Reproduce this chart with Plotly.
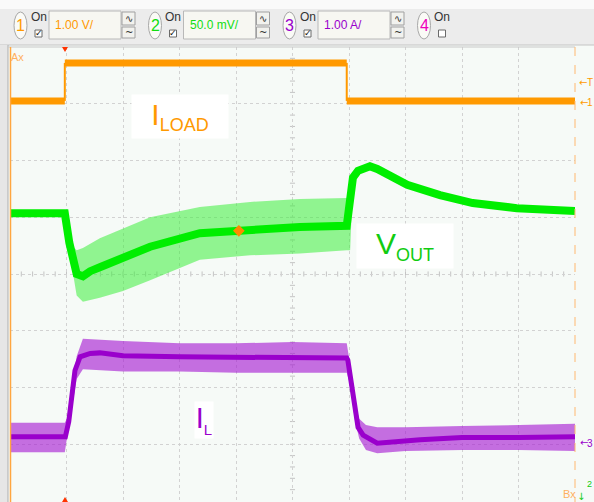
import plotly.graph_objects as go

# ---------------- data (in screen divisions: x 0..10, y -4..4) ----------------
# Channel 1 : I_LOAD (orange)
ch1_t = [0, 0.97, 5.96, 10.0]
ch1_v = [3.05, 3.72, 3.05, 3.05]

# Channel 2 : V_OUT (green) - centre of the trace
ch2_t = [0, 0.97, 1.05, 1.18, 1.29, 1.42, 1.59, 2.0, 2.48, 3.36, 4.05, 5.13, 5.96,
         6.02, 6.07, 6.16, 6.37, 6.50, 7.03, 7.61, 8.19, 8.97, 10.0]
ch2_v = [1.07, 1.07, 0.55, 0.0, -0.04, 0.05, 0.12, 0.30, 0.48, 0.72, 0.77, 0.83, 0.85,
         1.45, 1.70, 1.82, 1.90, 1.85, 1.57, 1.39, 1.25, 1.16, 1.11]
# V_OUT switching-ripple envelope
ch2_env_t = [1.02, 1.10, 1.18, 1.29, 1.59, 2.0, 2.48, 3.36, 4.25, 5.13, 5.96, 6.02, 6.07]
ch2_env_hi = [0.75, 0.50, 0.42, 0.46, 0.63, 0.80, 1.00, 1.18, 1.27, 1.32, 1.34, 1.60, 1.75]
ch2_env_lo = [0.75, 0.10, -0.38, -0.49, -0.42, -0.30, -0.11, 0.25, 0.33, 0.36, 0.42, 0.42, 1.65]

# Channel 3 : I_L (purple) - centre of the trace
ch3_t = [0, 0.98, 1.04, 1.10, 1.15, 1.24, 1.42, 1.59, 2.0, 3.0, 4.0, 5.0, 5.96,
         5.98, 6.05, 6.11, 6.16, 6.25, 6.50, 7.26, 8.0, 9.0, 10.0]
ch3_v = [-2.87, -2.87, -2.60, -2.18, -1.70, -1.46, -1.40, -1.39, -1.44, -1.46, -1.47, -1.47, -1.48,
         -1.52, -1.99, -2.40, -2.70, -2.84, -2.98, -2.92, -2.88, -2.88, -2.87]
# I_L ripple envelope
ch3_env_t = [0, 0.97, 1.03, 1.10, 1.18, 1.29, 2.0, 3.0, 4.0, 5.0, 5.96, 6.02, 6.10, 6.18,
             6.30, 6.50, 7.0, 8.0, 9.0, 10.0]
ch3_env_hi = [-2.62, -2.62, -2.50, -2.05, -1.45, -1.14, -1.18, -1.22, -1.22, -1.20, -1.22, -1.60,
              -2.25, -2.55, -2.66, -2.70, -2.70, -2.68, -2.66, -2.64]
ch3_env_lo = [-3.14, -3.14, -2.75, -2.35, -1.85, -1.68, -1.72, -1.72, -1.74, -1.74, -1.74, -1.95,
              -2.55, -2.90, -3.10, -3.16, -3.12, -3.10, -3.10, -3.12]

# cursor marker on V_OUT
marker_t = [4.05]
marker_v = [0.76]

# channel settings shown in the toolbar
ch_numbers = ["1", "2", "3", "4"]
ch_scales = ["1.00 V/", "50.0 mV/", "1.00 A/", None]
ch_colors = ["#FF9900", "#11DD11", "#9900CC", "#EE00BB"]

# ---------------- layout helpers (pixel -> paper) ----------------
W, H = 594, 502
L, R, T, B = 10, 575, 47, 501


def px(x):
    return (x - L) / (R - L)


def py(y):
    return (B - y) / (B - T)


ORANGE = "#FF9900"
GREEN = "#00EE00"
PURPLE = "#9A00CC"
PLOT_BG = "#F6FAF7"

fig = go.Figure()

# I_L ripple band + core
fig.add_trace(go.Scatter(x=ch3_env_t, y=ch3_env_hi, mode="lines", line=dict(width=0),
                         hoverinfo="skip", showlegend=False))
fig.add_trace(go.Scatter(x=ch3_env_t, y=ch3_env_lo, mode="lines", line=dict(width=0),
                         fill="tonexty", fillcolor="rgba(165,25,210,0.62)",
                         hoverinfo="skip", showlegend=False))
fig.add_trace(go.Scatter(x=ch3_t, y=ch3_v, mode="lines", line=dict(color=PURPLE, width=5),
                         showlegend=False))

# V_OUT ripple band + core
fig.add_trace(go.Scatter(x=ch2_env_t, y=ch2_env_hi, mode="lines", line=dict(width=0),
                         hoverinfo="skip", showlegend=False))
fig.add_trace(go.Scatter(x=ch2_env_t, y=ch2_env_lo, mode="lines", line=dict(width=0),
                         fill="tonexty", fillcolor="rgba(60,238,60,0.55)",
                         hoverinfo="skip", showlegend=False))
fig.add_trace(go.Scatter(x=ch2_t, y=ch2_v, mode="lines", line=dict(color=GREEN, width=8),
                         showlegend=False))

# I_LOAD : thick levels, thin edges (built from the step data)
lev_x, lev_y, edge_x, edge_y = [], [], [], []
for i in range(len(ch1_t) - 1):
    lev_x += [ch1_t[i], ch1_t[i + 1], None]
    lev_y += [ch1_v[i], ch1_v[i], None]
    edge_x += [ch1_t[i + 1], ch1_t[i + 1], None]
    edge_y += [ch1_v[i], ch1_v[i + 1], None]
fig.add_trace(go.Scatter(x=edge_x, y=edge_y, mode="lines",
                         line=dict(color=ORANGE, width=2), showlegend=False))
fig.add_trace(go.Scatter(x=lev_x, y=lev_y, mode="lines",
                         line=dict(color=ORANGE, width=7), showlegend=False))

# cursor marker
fig.add_trace(go.Scatter(x=marker_t, y=marker_v, mode="markers",
                         marker=dict(symbol="diamond", size=9, color="#FF8800"),
                         showlegend=False))

shapes = []
annos = []


def rect(x0, y0, x1, y1, fill, line="rgba(0,0,0,0)", lw=1, layer="above"):
    shapes.append(dict(type="rect", xref="paper", yref="paper",
                       x0=px(x0), x1=px(x1), y0=py(y0), y1=py(y1),
                       fillcolor=fill, line=dict(color=line, width=lw), layer=layer))


def text(x, y, s, size, color, xanchor="center", family="Liberation Sans, Arial"):
    annos.append(dict(xref="paper", yref="paper", x=px(x), y=py(y), text=s,
                      showarrow=False, xanchor=xanchor, yanchor="middle",
                      font=dict(size=size, color=color, family=family)))


# toolbar and frame
rect(0, 0, W, 9, "#FAFAFA")
rect(0, 9, W, 45, "#ECECEC")
shapes.append(dict(type="line", xref="paper", yref="paper", x0=px(0), x1=px(W),
                   y0=py(45), y1=py(45), line=dict(color="#C4C4C4", width=1)))
rect(0, 45, 8, H, "#E6E6E6")
shapes.append(dict(type="line", xref="paper", yref="paper", x0=px(8), x1=px(8),
                   y0=py(45), y1=py(H), line=dict(color="#AFAFAF", width=1)))
shapes.append(dict(type="line", xref="paper", yref="paper", x0=px(8), x1=px(R),
                   y0=py(T), y1=py(T), line=dict(color="#C8C8C8", width=1)))

# toolbar controls
for k in range(4):
    dx = 134.5 * k
    shapes.append(dict(type="circle", xref="paper", yref="paper",
                       x0=px(14 + dx), x1=px(27 + dx), y0=py(12), y1=py(39),
                       fillcolor="#FAFAF6", line=dict(color="#A8A8A8", width=1)))
    text(20.5 + dx, 26, ch_numbers[k], 16, ch_colors[k])
    text(38.5 + dx, 17, "On", 12, "#333333", family="Liberation Sans Narrow, Liberation Sans")
    rect(35 + dx, 30, 42 + dx, 37, "#FFFFFF", "#6A6A6A")
    if ch_scales[k] is not None:
        text(38.5 + dx, 33.5, "<b>✓</b>", 9, "#111111", family="DejaVu Sans")
        rect(49 + dx, 11, 121 + dx, 39, "#F7F7F2", "#B8B8B8")
        text(53 + dx, 25, ch_scales[k], 12, ch_colors[k], xanchor="left",
             family="Liberation Sans Narrow, Liberation Sans")
        rect(122 + dx, 12, 135 + dx, 25, "#F2F2EE", "#A0A0A0")
        rect(122 + dx, 27, 135 + dx, 38, "#F2F2EE", "#A0A0A0")
        text(128.5 + dx, 18.5, "∿", 10, "#333333", family="DejaVu Sans")
        text(128.5 + dx, 32.5, "~", 10, "#333333", family="DejaVu Sans")

# minor ticks on centre lines
for i in range(1, 50):
    shapes.append(dict(type="line", xref="x", yref="y", x0=i * 0.2, x1=i * 0.2,
                       y0=-0.045, y1=0.045, line=dict(color="#C4C4C4", width=1), layer="below"))
for i in range(1, 40):
    shapes.append(dict(type="line", xref="x", yref="y", x0=4.955, x1=5.045,
                       y0=-4 + i * 0.2, y1=-4 + i * 0.2,
                       line=dict(color="#C4C4C4", width=1), layer="below"))

# cursors Ax / Bx
shapes.append(dict(type="line", xref="paper", yref="paper", x0=px(10.5), x1=px(10.5),
                   y0=py(T), y1=py(H), line=dict(color="#FFA640", width=1.5)))
shapes.append(dict(type="line", xref="paper", yref="paper", x0=px(575), x1=px(575),
                   y0=py(T), y1=py(H), line=dict(color="#FFB870", width=1, dash="dash")))

# trigger markers
shapes.append(dict(type="path", xref="paper", yref="paper",
                   path=f"M {px(62)} {py(47)} L {px(68)} {py(47)} L {px(65)} {py(52)} Z",
                   fillcolor="#FF3300", line=dict(width=0)))
shapes.append(dict(type="path", xref="paper", yref="paper",
                   path=f"M {px(62)} {py(502)} L {px(68)} {py(502)} L {px(65)} {py(497)} Z",
                   fillcolor="#FF3300", line=dict(width=0)))


# labels
def label(cx, cy, w, h, s, color, size=30):
    annos.append(dict(xref="paper", yref="paper", x=px(cx), y=py(cy), text=s,
                      showarrow=False, xanchor="center", yanchor="middle",
                      width=w, height=h, bgcolor="#FFFFFF", borderpad=0,
                      font=dict(size=size, color=color, family="Liberation Sans, Arial")))


label(180, 116.5, 96, 43, "I<sub><span style='font-size:18px'>LOAD</span></sub>", ORANGE)
label(405, 246, 96, 44, "V<sub><span style='font-size:18px'>OUT</span></sub>", "#11CC11")
label(204, 420, 18, 36, "I<sub><span style='font-size:15px'>L</span></sub>", PURPLE, 29)

# cursor / channel indicators
text(17, 57, "Ax", 11, "#FFB060")
text(569, 494, "Bx", 11, "#FFB060")
text(583, 83, "←", 10, ORANGE, family="DejaVu Sans")
text(590, 82, "T", 10, ORANGE)
text(584, 103, "←", 10, ORANGE, family="DejaVu Sans")
text(590, 102, "1", 10, ORANGE)
text(584, 442, "←", 10, PURPLE, family="DejaVu Sans")
text(590, 443, "3", 10, PURPLE)
text(581, 496, "↓", 10, "#11CC11", family="DejaVu Sans")
text(589.5, 484, "2", 9, "#11CC11")

axis_common = dict(showgrid=True, dtick=1, tick0=0, gridcolor="#D2D2D2", griddash="dot",
                   gridwidth=1, showticklabels=False, ticks="", zeroline=False,
                   showline=False, fixedrange=True)

fig.update_layout(
    width=W, height=H, autosize=False,
    margin=dict(l=L, r=W - R, t=T, b=H - B, pad=0),
    paper_bgcolor=PLOT_BG, plot_bgcolor=PLOT_BG,
    xaxis=dict(range=[0, 10], **axis_common),
    yaxis=dict(range=[-4, 4], **axis_common),
    shapes=shapes, annotations=annos, showlegend=False,
)

fig.write_html("out.html", config={"displayModeBar": False},
               post_script="document.body.style.margin='0';document.body.style.overflow='hidden';")
